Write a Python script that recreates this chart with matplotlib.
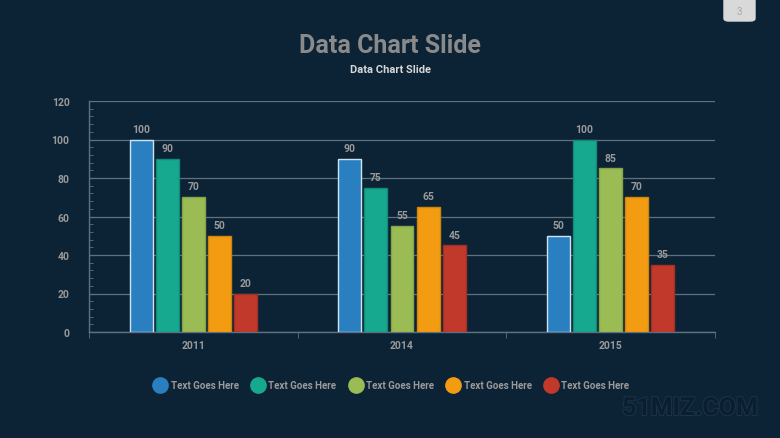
import matplotlib
matplotlib.use("Agg")
import matplotlib.pyplot as plt
import matplotlib.patheffects as pe
from matplotlib.patches import FancyBboxPatch
from matplotlib.lines import Line2D
from matplotlib.ticker import MultipleLocator
import numpy as np

years = ["2011", "2014", "2015"]
series_names = ["Text Goes Here"] * 5
values = [
    [100, 90, 50],
    [90, 75, 100],
    [70, 55, 85],
    [50, 65, 70],
    [20, 45, 35],
]
colors = ["#2a7fc1", "#17a98f", "#9bbb55", "#f39c12", "#c0392b"]
edges = ["#cfe3f3", "#138a75", "#86a448", "#cf8510", "#a33024"]

bg = "#0c2336"
grid_c = "#5f717f"
txt = "#9a9a9a"

plt.rcParams['font.family'] = ['Roboto', 'DejaVu Sans']

fig = plt.figure(figsize=(7.8, 4.39), dpi=100, facecolor=bg)
ax = fig.add_axes([89 / 780, 1 - 333 / 439, 626 / 780, 231 / 439])
ax.set_facecolor(bg)

x = np.arange(len(years))
pitch = 0.125
width = 0.11
for i, vals in enumerate(values):
    pos = x + (i - 2) * pitch
    ax.bar(pos, vals, width=width, color=colors[i], edgecolor=edges[i], linewidth=1, zorder=3)
    for p, v in zip(pos, vals):
        ax.text(p, v + 3, str(v), ha="center", va="bottom", color=txt,
                fontsize=7.5, fontweight="bold")

ax.set_xlim(-0.5, 2.5)
ax.set_ylim(0, 120)
ax.yaxis.set_major_locator(MultipleLocator(20))
ax.yaxis.set_minor_locator(MultipleLocator(4))
ax.grid(axis="y", which="major", color=grid_c, linewidth=0.9, zorder=0)
ax.set_xticks(x)
ax.set_xticklabels(years)
ax.set_xticks([-0.5, 0.5, 1.5, 2.5], minor=True)
ax.tick_params(axis="x", which="major", length=0, colors=txt, labelsize=7.5, pad=6)
ax.tick_params(axis="x", which="minor", length=4, color=grid_c, direction="out")
ax.tick_params(axis="y", which="major", length=4, direction="in", color=grid_c,
               colors=txt, labelsize=7.5, pad=14)
ax.tick_params(axis="y", which="minor", length=3, direction="in", color=grid_c)
for lab in ax.get_xticklabels() + ax.get_yticklabels():
    lab.set_fontweight("bold")
    lab.set_color(txt)
for s in ["top", "right"]:
    ax.spines[s].set_visible(False)
for s in ["left", "bottom"]:
    ax.spines[s].set_color(grid_c)
    ax.spines[s].set_linewidth(1)

# title
fig.text(0.5, 1 - 46 / 439, "Data Chart Slide", ha="center", va="center",
         color="#8a8a8a", fontsize=18, fontweight="bold")
fig.text(0.5, 1 - 70 / 439, "Data Chart Slide", ha="center", va="center",
         color="#d6d6d6", fontsize=8, fontweight="bold")

# legend
handles = [Line2D([], [], marker="o", linestyle="none", markersize=11,
                  markerfacecolor=c, markeredgecolor=c) for c in colors]
leg = fig.legend(handles, series_names, loc="center", bbox_to_anchor=(0.5, 1 - 386 / 439),
                 ncol=5, frameon=False, fontsize=7, handletextpad=0.05,
                 columnspacing=1.0, labelcolor=txt)
for t in leg.get_texts():
    t.set_fontweight("bold")

# page number box
box = FancyBboxPatch((724 / 780, 1 - 22 / 439), 31 / 780, 24 / 439,
                     boxstyle="round,pad=0,rounding_size=0.006",
                     transform=fig.transFigure, facecolor="#d9d9d9",
                     edgecolor="#d9d9d9")
fig.patches.append(box)
fig.text(739.5 / 780, 1 - 12 / 439, "3", ha="center", va="center",
         color="#a8a8a8", fontsize=7)

# watermark
fig.text(690 / 780, 1 - 409 / 439, "51MIZ.COM", ha="center", va="center",
         color="#0a1e2f", fontsize=18, fontweight="bold",
         path_effects=[pe.withStroke(linewidth=1.5, foreground="#1a3248")])

fig.savefig("out.png", dpi=100, facecolor=bg)
